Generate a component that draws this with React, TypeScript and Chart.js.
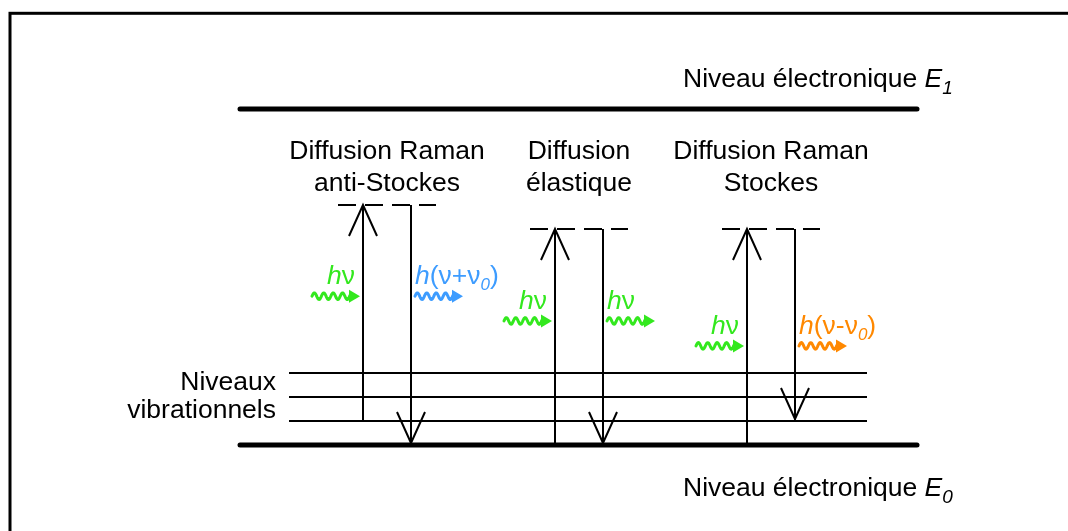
import React, { useEffect, useRef } from "react";
import { Chart, registerables } from "chart.js";
Chart.register(...registerables);

const W = 1068;
const H = 531;

// Energy in units of one vibrational quantum; x in diagram units
const ELECTRONIC_LEVELS = [0, 14];
const ELECTRONIC_INDEX = ["0", "1"];
const ELECTRONIC_SPAN = [240, 917];
const ELECTRONIC_LABEL_Y = [-2.12, 14.9];
const VIB_LEVELS = [1, 2, 3];
const VIB_SPAN = [289, 867];
const VIB_LABELS = ["Niveaux", "vibrationnels"];
const VIB_LABEL_Y = [2.3, 1.12];

const PROCESS_TITLES = [
  ["Diffusion Raman", "anti-Stockes"],
  ["Diffusion", "élastique"],
  ["Diffusion Raman", "Stockes"],
];
const TITLE_Y = [11.93, 10.6];
const UP_X = [363, 555, 747];
const DOWN_X = [411, 603, 795];
const START_LEVEL = [1, 0, 0];
const VIRTUAL_LEVEL = [10, 9, 9];
const END_LEVEL = [0, 0, 1];
const VIRTUAL_SPAN = [
  [338, 436],
  [530, 628],
  [722, 820],
];
const PHOTON_LEVEL = [6.2, 5.17, 4.13];
const PHOTON_IN_X = [
  [312, 360],
  [504, 552],
  [696, 744],
];
const PHOTON_OUT_X = [
  [415, 463],
  [607, 655],
  [799, 847],
];
const OUT_SHIFT = ["+", "", "-"];

const GREEN = "#33e81e";
const OUT_COLORS = ["#3d9cff", GREEN, "#ff8800"];
const FONT = "'Liberation Sans', Arial, sans-serif";

type Seg = { t: string; italic?: boolean; sub?: boolean };

function photonLabel(shift: string): Seg[] {
  if (!shift) return [{ t: "h", italic: true }, { t: "ν" }];
  return [
    { t: "h", italic: true },
    { t: "(ν" + shift + "ν" },
    { t: "0", italic: true, sub: true },
    { t: ")" },
  ];
}

function segFont(s: Seg, size: number, subSize: number) {
  return `${s.italic ? "italic " : ""}${s.sub ? subSize : size}px ${FONT}`;
}

function drawRich(
  ctx: CanvasRenderingContext2D,
  segs: Seg[],
  x: number,
  y: number,
  align: "left" | "right",
  size: number,
  subSize: number,
  subDy: number
) {
  let total = 0;
  for (const s of segs) {
    ctx.font = segFont(s, size, subSize);
    total += ctx.measureText(s.t).width;
  }
  let cx = align === "right" ? x - total : x;
  ctx.textAlign = "left";
  ctx.textBaseline = "alphabetic";
  for (const s of segs) {
    ctx.font = segFont(s, size, subSize);
    ctx.fillText(s.t, cx, s.sub ? y + subDy : y);
    cx += ctx.measureText(s.t).width;
  }
}

function drawWave(ctx: CanvasRenderingContext2D, x0: number, x1: number, y: number, color: string) {
  const headLen = 11;
  const waveEnd = x1 - headLen + 1;
  ctx.save();
  ctx.strokeStyle = color;
  ctx.fillStyle = color;
  ctx.lineWidth = 3;
  ctx.lineCap = "round";
  ctx.lineJoin = "round";
  ctx.beginPath();
  const period = 9.4;
  for (let px = x0; px <= waveEnd; px += 0.5) {
    const py = y - 3.3 * Math.sin(((px - x0) / period) * Math.PI * 2);
    if (px === x0) ctx.moveTo(px, py);
    else ctx.lineTo(px, py);
  }
  ctx.stroke();
  ctx.beginPath();
  ctx.moveTo(x1, y);
  ctx.lineTo(x1 - headLen, y - 6.5);
  ctx.lineTo(x1 - headLen, y + 6.5);
  ctx.closePath();
  ctx.fill();
  ctx.restore();
}

function drawHead(ctx: CanvasRenderingContext2D, x: number, y: number, dir: number) {
  ctx.save();
  ctx.strokeStyle = "#000";
  ctx.lineWidth = 2;
  ctx.lineCap = "butt";
  ctx.lineJoin = "miter";
  ctx.beginPath();
  ctx.moveTo(x - 14, y + dir * 31);
  ctx.lineTo(x, y);
  ctx.lineTo(x + 14, y + dir * 31);
  ctx.stroke();
  ctx.restore();
}

const diagramPlugin = {
  id: "ramanDiagram",
  beforeDraw(chart: any) {
    const ctx = chart.ctx as CanvasRenderingContext2D;
    ctx.save();
    ctx.fillStyle = "#fff";
    ctx.fillRect(0, 0, W, H);
    ctx.strokeStyle = "#000";
    ctx.lineWidth = 3;
    ctx.strokeRect(10, 13.3, W + 100, H + 100);
    ctx.restore();
  },
  afterDatasetsDraw(chart: any) {
    const ctx = chart.ctx as CanvasRenderingContext2D;
    const xs = chart.scales.x;
    const ys = chart.scales.y;
    const px = (v: number) => xs.getPixelForValue(v);
    const py = (v: number) => ys.getPixelForValue(v);
    ctx.save();
    ctx.fillStyle = "#000";

    // arrow heads
    UP_X.forEach((x, i) => {
      drawHead(ctx, px(x), py(VIRTUAL_LEVEL[i]), 1);
      drawHead(ctx, px(DOWN_X[i]), py(END_LEVEL[i]) - 2, -1);
    });

    // titles
    PROCESS_TITLES.forEach((lines, i) => {
      const cx = (px(UP_X[i]) + px(DOWN_X[i])) / 2;
      ctx.font = `26.5px ${FONT}`;
      ctx.textAlign = "center";
      ctx.textBaseline = "alphabetic";
      ctx.fillStyle = "#000";
      lines.forEach((l, k) => ctx.fillText(l, cx, py(TITLE_Y[k])));
    });

    // electronic level labels
    ELECTRONIC_LEVELS.forEach((_, i) => {
      ctx.fillStyle = "#000";
      drawRich(
        ctx,
        [{ t: "Niveau électronique " }, { t: "E", italic: true }, { t: ELECTRONIC_INDEX[i], italic: true, sub: true }],
        683,
        py(ELECTRONIC_LABEL_Y[i]),
        "left",
        26.5,
        19,
        7
      );
    });

    // vibrational labels
    ctx.font = `26.5px ${FONT}`;
    ctx.textAlign = "right";
    ctx.fillStyle = "#000";
    VIB_LABELS.forEach((l, k) => ctx.fillText(l, px(276), py(VIB_LABEL_Y[k])));

    // photons
    PHOTON_LEVEL.forEach((lv, i) => {
      const y = py(lv);
      drawWave(ctx, px(PHOTON_IN_X[i][0]), px(PHOTON_IN_X[i][1]), y, GREEN);
      drawWave(ctx, px(PHOTON_OUT_X[i][0]), px(PHOTON_OUT_X[i][1]), y, OUT_COLORS[i]);
      ctx.fillStyle = GREEN;
      drawRich(ctx, photonLabel(""), px(PHOTON_IN_X[i][1]) - 5, y - 12, "right", 26.5, 17, 6);
      ctx.fillStyle = OUT_COLORS[i];
      drawRich(ctx, photonLabel(OUT_SHIFT[i]), px(PHOTON_OUT_X[i][0]), y - 12, "left", 26.5, 17, 6);
    });
    ctx.restore();
  },
};

function seg(x0: number, y0: number, x1: number, y1: number, width: number, extra: any = {}) {
  return {
    data: [
      { x: x0, y: y0 },
      { x: x1, y: y1 },
    ],
    showLine: true,
    borderColor: "#000",
    borderWidth: width,
    pointRadius: 0,
    fill: false,
    ...extra,
  };
}

export default function App() {
  const ref = useRef<HTMLCanvasElement | null>(null);
  useEffect(() => {
    if (!ref.current) return;
    const datasets: any[] = [];
    ELECTRONIC_LEVELS.forEach((e) =>
      datasets.push(seg(ELECTRONIC_SPAN[0], e, ELECTRONIC_SPAN[1], e, 5, { borderCapStyle: "round" }))
    );
    VIB_LEVELS.forEach((v) => datasets.push(seg(VIB_SPAN[0], v, VIB_SPAN[1], v, 2)));
    VIRTUAL_LEVEL.forEach((v, i) =>
      datasets.push(seg(VIRTUAL_SPAN[i][0], v, VIRTUAL_SPAN[i][1], v, 2, { borderDash: [18, 9] }))
    );
    UP_X.forEach((x, i) => {
      datasets.push(seg(x, START_LEVEL[i], x, VIRTUAL_LEVEL[i], 2));
      datasets.push(seg(DOWN_X[i], VIRTUAL_LEVEL[i], DOWN_X[i], END_LEVEL[i] + 0.05, 2));
    });
    const chart = new Chart(ref.current, {
      type: "scatter",
      data: { datasets },
      options: {
        animation: false,
        responsive: false,
        maintainAspectRatio: false,
        layout: { padding: 0 },
        plugins: { legend: { display: false }, tooltip: { enabled: false } },
        scales: {
          x: { type: "linear", min: 0, max: W, display: false },
          y: { type: "linear", min: -86 / 24, max: 445 / 24, display: false },
        },
        elements: { line: { tension: 0 } },
      },
      plugins: [diagramPlugin as any],
    });
    return () => chart.destroy();
  }, []);
  return (
    <div style={{ position: "absolute", left: 0, top: 0, width: W, height: H, background: "#fff" }}>
      <canvas ref={ref} width={W} height={H} style={{ display: "block" }} />
    </div>
  );
}
